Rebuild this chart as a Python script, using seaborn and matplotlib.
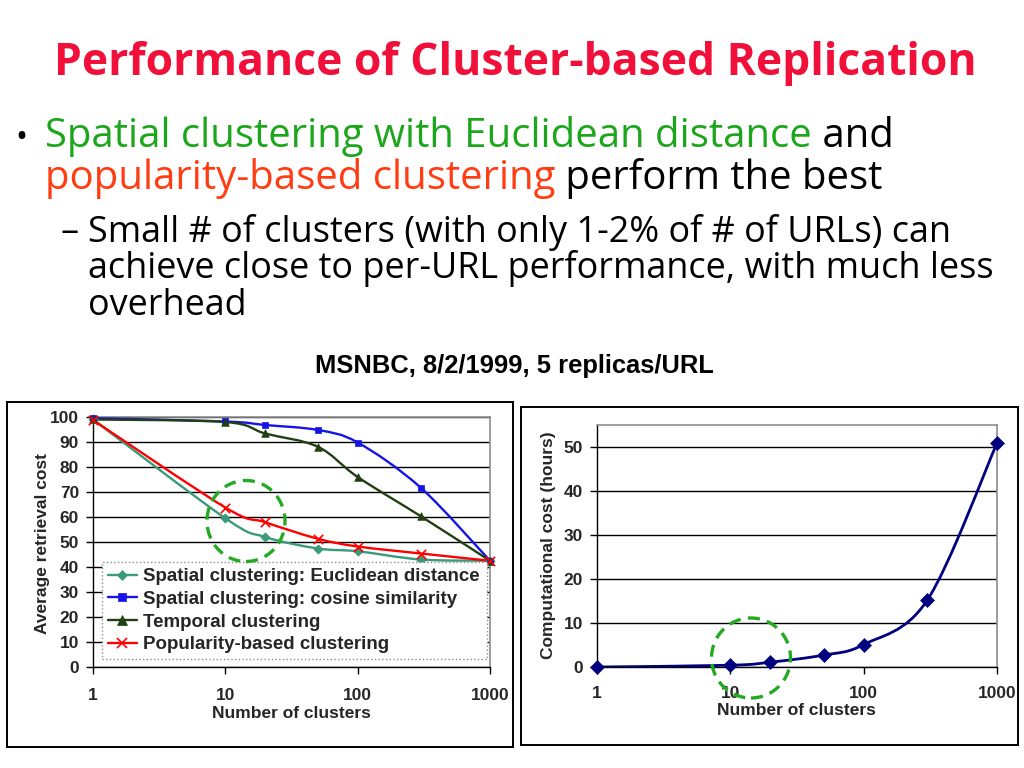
import numpy as np
import pandas as pd
import matplotlib
matplotlib.use("Agg")
import matplotlib.pyplot as plt
import seaborn as sns
from matplotlib.path import Path
from matplotlib.patches import PathPatch, Rectangle, Ellipse
from matplotlib.lines import Line2D
from matplotlib.ticker import FixedLocator, NullLocator, FixedFormatter

# ---------------- data ----------------
clusters = [1, 10, 20, 50, 100, 300, 1000]
euclidean = [99.0, 59.5, 52.0, 47.4, 46.3, 43.0, 42.5]
cosine = [99.5, 98.2, 96.8, 94.8, 89.8, 71.7, 42.5]
temporal = [99.0, 98.0, 93.4, 88.1, 76.0, 60.3, 42.5]
popularity = [98.8, 63.8, 57.9, 51.3, 48.2, 45.4, 42.5]
series_names = ["Spatial clustering: Euclidean distance",
                "Spatial clustering: cosine similarity",
                "Temporal clustering",
                "Popularity-based clustering"]
comp_cost = [0.0, 0.4, 1.1, 2.7, 5.1, 15.2, 50.9]
x_ticks = [1, 10, 100, 1000]
x_tick_labels = ["1", "10", "100", "1000"]
left_y_ticks = list(range(0, 101, 10))
right_y_ticks = list(range(0, 51, 10))

title_text = "Performance of Cluster-based Replication"
bullet1 = [("Spatial clustering with Euclidean distance", "#1ba61b"), (" and", "black")]
bullet2 = [("popularity-based clustering", "#ff3c12"), (" perform the best", "black")]
sub_lines = ["Small # of clusters (with only 1-2% of # of URLs) can",
             "achieve close to per-URL performance, with much less",
             "overhead"]
subtitle = "MSNBC, 8/2/1999, 5 replicas/URL"

# ---------------- style ----------------
sns.set_style("white")
plt.rcParams["font.family"] = ["Liberation Sans", "DejaVu Sans"]
SLIDE_FONT = ["Open Sans", "DejaVu Sans"]

W, H = 1024, 768
fig = plt.figure(figsize=(W / 100, H / 100), dpi=100)
fig.patch.set_facecolor("white")


def fx(px):
    return px / W


def fy(py):
    return 1 - py / H


def smooth_path(xs, ys):
    P = np.column_stack([np.log10(np.asarray(xs, float)), np.asarray(ys, float)])
    n = len(P)
    verts = [P[0]]
    codes = [Path.MOVETO]
    for i in range(n - 1):
        p0 = P[i - 1] if i > 0 else P[i]
        p1, p2 = P[i], P[i + 1]
        p3 = P[i + 2] if i + 2 < n else P[i + 1]
        c1 = p1 + (p2 - p0) / 6.0
        c2 = p2 - (p3 - p1) / 6.0
        verts += [c1, c2, p2]
        codes += [Path.CURVE4] * 3
    V = np.array(verts)
    V[:, 0] = 10 ** V[:, 0]
    return Path(V, codes)


LABEL_FS = 12.5
TICK_FS = 12.5


def style_axis(ax, ylim, yticks, xpad=10):
    ax.set_xscale("log")
    ax.set_xlim(1, 1000)
    ax.set_ylim(*ylim)
    ax.xaxis.set_major_locator(FixedLocator(x_ticks))
    ax.xaxis.set_major_formatter(FixedFormatter(x_tick_labels))
    ax.xaxis.set_minor_locator(NullLocator())
    ax.set_yticks(yticks)
    ax.set_yticklabels([str(v) for v in yticks])
    ax.yaxis.grid(True, color="black", linewidth=1.0)
    ax.xaxis.grid(False)
    ax.set_axisbelow(True)
    for s in ["left", "bottom"]:
        ax.spines[s].set_color("black")
        ax.spines[s].set_linewidth(1.0)
    for s in ["top", "right"]:
        ax.spines[s].set_color("#8c8c8c")
        ax.spines[s].set_linewidth(1.2)
    ax.tick_params(axis="both", which="major", direction="out", length=5, width=1,
                   color="black", labelsize=TICK_FS, left=True, bottom=True)
    ax.tick_params(axis="x", pad=xpad)
    ax.tick_params(axis="y", pad=5)
    for lab in ax.get_xticklabels() + ax.get_yticklabels():
        lab.set_fontweight("bold")


# ---------------- left chart ----------------
ax1 = fig.add_axes([fx(93), fy(667), fx(490) - fx(93), fy(417) - fy(667)])
left_series = [euclidean, cosine, temporal, popularity]
colors = ["#3a9a7c", "#1414e6", "#213f12", "#ff0000"]
markers = ["D", "s", "^", "x"]
msizes = [22, 22, 30, 45]
for vals, c, m, s, name in zip(left_series, colors, markers, msizes, series_names):
    ax1.add_patch(PathPatch(smooth_path(clusters, vals), facecolor="none",
                            edgecolor=c, lw=1.7, capstyle="round", zorder=3))
    df = pd.DataFrame({"clusters": clusters, "cost": vals})
    if m == "x":
        sns.scatterplot(data=df, x="clusters", y="cost", marker=m, color=c, s=s,
                        linewidth=1.2, ax=ax1, zorder=4, legend=False, clip_on=False)
    else:
        sns.scatterplot(data=df, x="clusters", y="cost", marker=m, color=c, s=s,
                        edgecolor=c, linewidth=0.5, ax=ax1, zorder=4, legend=False,
                        clip_on=False)
style_axis(ax1, (0, 100), left_y_ticks)
ax1.set_xlabel("Number of clusters", fontsize=LABEL_FS, fontweight="bold")
ax1.set_ylabel("Average retrieval cost", fontsize=LABEL_FS, fontweight="bold")
ax1.xaxis.set_label_coords(0.5, -0.184)
ax1.xaxis.label.set_va("center")
ax1.yaxis.set_label_coords(-0.128, 0.496)
ax1.yaxis.label.set_va("center")

handles = [Line2D([0], [0], color=c, marker=m, lw=1.7,
                  markersize=(5.5 if m in "Ds" else 6.5),
                  markeredgewidth=(1.2 if m == "x" else 0.5))
           for c, m in zip(colors, markers)]
leg = ax1.legend(handles, series_names, loc="lower left",
                 bbox_to_anchor=((102 - 93) / 397, (667 - 659) / 250, (487 - 102) / 397, 0.37),
                 mode="expand", prop={"family": "Liberation Sans", "weight": "bold", "size": 13.5},
                 frameon=True, fancybox=False, borderpad=0.3, labelspacing=0.3,
                 handlelength=1.55, handletextpad=0.35, borderaxespad=0.0)
fr = leg.get_frame()
fr.set_edgecolor("#8c8c8c")
fr.set_linestyle(":")
fr.set_linewidth(1.0)
fr.set_facecolor("white")
fr.set_alpha(1.0)
leg.set_zorder(6)

# ---------------- right chart ----------------
ax2 = fig.add_axes([fx(597), fy(667), fx(997) - fx(597), fy(425) - fy(667)])
ax2.add_patch(PathPatch(smooth_path(clusters, comp_cost), facecolor="none",
                        edgecolor="#000080", lw=2.0, capstyle="round", zorder=3))
sns.scatterplot(x=clusters, y=comp_cost, marker="D", color="#000080", s=50,
                edgecolor="#000080", linewidth=0.5, ax=ax2, zorder=4, legend=False,
                clip_on=False)
style_axis(ax2, (0, 55), right_y_ticks, xpad=8.5)
ax2.set_xlabel("Number of clusters", fontsize=LABEL_FS, fontweight="bold")
ax2.set_ylabel("Computational cost (hours)", fontsize=LABEL_FS, fontweight="bold")
ax2.xaxis.set_label_coords(0.498, -0.178)
ax2.xaxis.label.set_va("center")
ax2.yaxis.set_label_coords(-0.12, 0.504)
ax2.yaxis.label.set_va("center")

# ---------------- frames & circles ----------------
for (x0, y0, x1, y1) in [(7, 402, 513, 747), (521, 407, 1018, 745)]:
    fig.add_artist(Rectangle((fx(x0), fy(y1)), fx(x1) - fx(x0), fy(y0) - fy(y1),
                             transform=fig.transFigure, facecolor="none",
                             edgecolor="black", lw=1.4, zorder=1))
for (cx, cy, w, h) in [(246, 521, 78, 81), (751, 658, 79, 80)]:
    fig.add_artist(Ellipse((fx(cx), fy(cy)), w / W, h / H, transform=fig.transFigure,
                           facecolor="none", edgecolor="#22aa22", lw=2.4,
                           linestyle=(0, (3.6, 2.2)), zorder=10))

# ---------------- slide text ----------------
fig.canvas.draw()
R = fig.canvas.get_renderer()


def place_line(pieces, x0, base, fs, family=SLIDE_FONT, weight="normal"):
    x = x0
    out = []
    for s, c in pieces:
        t = fig.text(fx(x), fy(base), s, fontsize=fs, family=family, color=c,
                     ha="left", va="baseline", fontweight=weight)
        x += t.get_window_extent(R).width
        out.append(t)
    return out


def fit_size(pieces, target, fs0=20, family=SLIDE_FONT, weight="normal"):
    ts = [fig.text(0, 0, s, fontsize=fs0, family=family, fontweight=weight) for s, _ in pieces]
    w = sum(t.get_window_extent(R).width for t in ts)
    for t in ts:
        t.remove()
    return fs0 * target / w


fs_title = fit_size([(title_text, "")], 921, weight="bold")
place_line([(title_text, "#f0103a")], 54, 75, fs_title, weight="bold")

fs_b = fit_size(bullet1, 848)
fig.text(fx(21), fy(147), "\u2022", fontsize=fs_b * 0.8, family=SLIDE_FONT,
         ha="center", va="baseline", color="black")
place_line(bullet1, 45, 147, fs_b)
place_line(bullet2, 45, 189, fs_b)

fs_s = fit_size([(sub_lines[0], "")], 862)
fig.text(fx(70), fy(242), "\u2013", fontsize=fs_s, family=SLIDE_FONT,
         ha="center", va="baseline", color="black")
for line, base in zip(sub_lines, [242, 278, 315]):
    place_line([(line, "black")], 88, base, fs_s)

fs_sub = fit_size([(subtitle, "")], 398, family=["Liberation Sans"], weight="bold")
place_line([(subtitle, "black")], 315, 373, fs_sub, family=["Liberation Sans"], weight="bold")

fig.savefig("out.png", dpi=100)
